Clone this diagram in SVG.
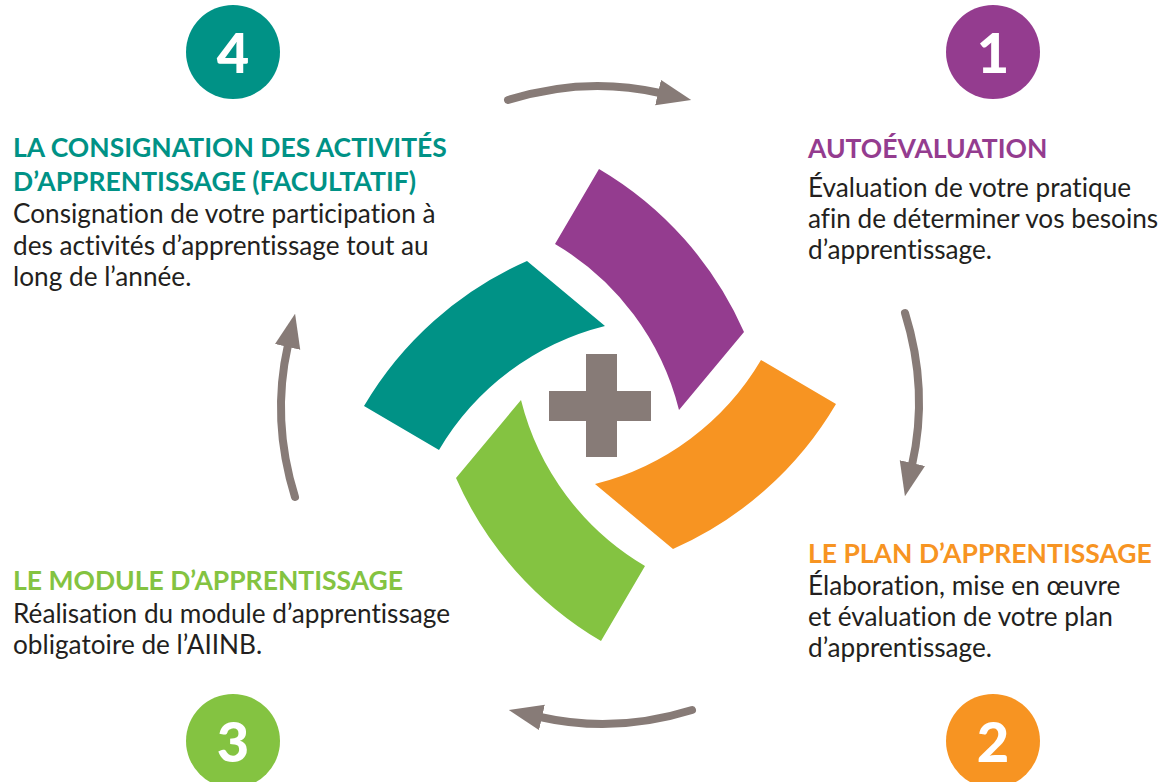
<svg xmlns="http://www.w3.org/2000/svg" width="1165" height="782" viewBox="0 0 1165 782">
<defs>
<style>
.h{font-family:Lato,"Liberation Sans",sans-serif;font-weight:700;font-size:26.5px;font-variant-ligatures:none}
.b{font-family:Lato,"Liberation Sans",sans-serif;font-size:26.2px;fill:#231F20;font-variant-ligatures:none}
.num{font-family:Lato,"Liberation Sans",sans-serif;font-weight:900;font-size:56px;fill:#fff;text-anchor:middle}
.conn{fill:none;stroke:#877B77;stroke-width:8;stroke-linecap:round}
</style>
<marker id="ah" markerUnits="userSpaceOnUse" markerWidth="40" markerHeight="30" refX="2" refY="13" orient="auto">
<path d="M0,0 L34,13 L0,26 Z" fill="#877B77"/>
</marker>
<path id="petal" d="M599,169 A355,355 0 0 1 744,332 L679,410 A268,268 0 0 0 555,244 Z"/>
</defs>
<rect width="1165" height="782" fill="#fff"/>
<g id="center">
<use href="#petal" fill="#943C8F"/>
<use href="#petal" fill="#F79422" transform="rotate(90 600 405)"/>
<use href="#petal" fill="#84C341" transform="rotate(180 600 405)"/>
<use href="#petal" fill="#009286" transform="rotate(270 600 405)"/>
<path d="M586,354 H617 V391 H651 V421 H617 V457 H586 V421 H549 V391 H586 Z" fill="#877B77"/>
</g>
<g id="connectors">
<path class="conn" d="M508,100 Q585,76 660,93" marker-end="url(#ah)"/>
<path class="conn" d="M508,100 Q585,76 660,93" marker-end="url(#ah)" transform="rotate(90 600 405)"/>
<path class="conn" d="M508,100 Q585,76 660,93" marker-end="url(#ah)" transform="rotate(180 600 405)"/>
<path class="conn" d="M508,100 Q585,76 660,93" marker-end="url(#ah)" transform="rotate(270 600 405)"/>
</g>
<g id="step1">
<circle cx="993" cy="52" r="47" fill="#943C8F"/>
<text class="num" x="993" y="73">1</text>
<text class="h" x="808" y="158" fill="#943C8F">AUTOÉVALUATION</text>
<text class="b" x="808" y="197">Évaluation de votre pratique</text>
<text class="b" x="808" y="228">afin de déterminer vos besoins</text>
<text class="b" x="808" y="259">d’apprentissage.</text>
</g>
<g id="step2">
<circle cx="993" cy="741" r="47" fill="#F79422"/>
<text class="num" x="993" y="762">2</text>
<text class="h" x="808" y="563" fill="#F79422">LE PLAN D’APPRENTISSAGE</text>
<text class="b" x="808" y="595">Élaboration, mise en œuvre</text>
<text class="b" x="808" y="626">et évaluation de votre plan</text>
<text class="b" x="808" y="657">d’apprentissage.</text>
</g>
<g id="step3">
<circle cx="233" cy="741" r="47" fill="#84C341"/>
<text class="num" x="233" y="762">3</text>
<text class="h" x="13" y="590" fill="#84C341">LE MODULE D’APPRENTISSAGE</text>
<text class="b" x="13" y="623">Réalisation du module d’apprentissage</text>
<text class="b" x="13" y="654">obligatoire de l’AIINB.</text>
</g>
<g id="step4">
<circle cx="233" cy="52" r="47" fill="#009286"/>
<text class="num" x="233" y="73">4</text>
<text class="h" x="13" y="157" fill="#009286">LA CONSIGNATION DES ACTIVITÉS</text>
<text class="h" x="13" y="191" fill="#009286">D’APPRENTISSAGE (FACULTATIF)</text>
<text class="b" x="13" y="223">Consignation de votre participation à</text>
<text class="b" x="13" y="255">des activités d’apprentissage tout au</text>
<text class="b" x="13" y="286">long de l’année.</text>
</g>
</svg>
